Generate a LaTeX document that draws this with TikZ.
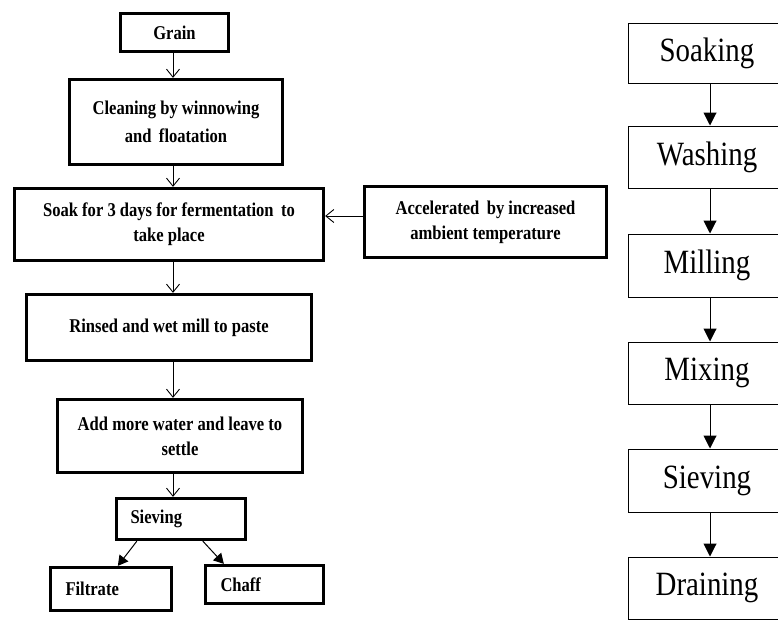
\documentclass[tikz,border=0pt]{standalone}
\usepackage{fontspec}
\setmainfont[FakeStretch=0.85]{Liberation Serif}
\usetikzlibrary{arrows.meta}
\tikzset{
  lbox/.style={draw, line width=3.3pt, align=center, inner sep=2pt,
    font=\fontsize{19.5}{25}\selectfont\bfseries},
  rbox/.style={draw, line width=1pt, minimum width=158pt, align=center, inner sep=0pt,
    font=\fontsize{34}{40}\selectfont},
  oarr/.style={draw, line width=0.9pt, -{Straight Barb[length=8pt,width=13pt,line width=0.9pt]}},
  farr/.style={draw, line width=1pt, -{Triangle[length=13pt,width=13pt]}},
  sarr/.style={draw, line width=1pt, -{Triangle[length=10pt,width=11pt]}}
}
\begin{document}
\begin{tikzpicture}[x=1pt,y=-1pt]
\useasboundingbox (0,0) rectangle (778,619);
\clip (0,0) rectangle (778,619);
\fill[white] (0,0) rectangle (778,619);
\coordinate (spine) at (173,0);
\coordinate (rspine) at (710,0);
% left flowchart
\node[lbox, minimum width=108pt, minimum height=38pt] (grain) at (174.5,32.5) {Grain};
\node[lbox, minimum width=213pt, minimum height=85pt, font=\fontsize{19.5}{28}\selectfont\bfseries] (clean) at (176,122) {Cleaning by winnowing\\and\, floatation};
\node[lbox, minimum width=309pt, minimum height=72pt] (soak) at (169,224.5) {Soak for 3 days for fermentation\, to\\take place};
\node[lbox, minimum width=242pt, minimum height=71pt] (accel) at (485.5,222) {Accelerated\, by increased\\ambient temperature};
\node[lbox, minimum width=285pt, minimum height=66pt] (rinsed) at (169,327.5) {Rinsed and wet mill to paste};
\node[lbox, minimum width=245pt, minimum height=73pt] (water) at (180,436) {Add more water and leave to\\settle};
\node[lbox, minimum height=41pt, inner xsep=14pt, text width=101pt, align=left] (sieve) at (181,519) {Sieving};
\node[lbox, minimum height=43pt, inner xsep=15pt, text width=91pt, align=left] (filtrate) at (111,589) {Filtrate};
\node[lbox, minimum height=38pt, inner xsep=15pt, text width=88pt, align=left] (chaff) at (264.5,584.5) {Chaff};
\draw[oarr] (grain.south -| spine) -- (clean.north -| spine);
\draw[oarr] (clean.south -| spine) -- (soak.north -| spine);
\draw[oarr] (soak.south -| spine) -- (rinsed.north -| spine);
\draw[oarr] (rinsed.south -| spine) -- (water.north -| spine);
\draw[oarr] (water.south -| spine) -- (sieve.north -| spine);
\draw[oarr] ([yshift=6pt]accel.west) -- ([yshift=6pt]accel.west -| soak.east);
\draw[sarr] ([xshift=22pt]sieve.south west) -- ([xshift=69pt]filtrate.north west);
\draw[sarr] ([xshift=88pt]sieve.south west) -- ([xshift=20pt]chaff.north west);
% right flowchart
\node[rbox, minimum height=60pt] (soaking) at (707,53) {Soaking};
\node[rbox, minimum height=62pt] (washing) at (707,157) {Washing};
\node[rbox, minimum height=63pt] (milling) at (707,265.5) {Milling};
\node[rbox, minimum height=62pt] (mixing) at (707,373) {Mixing};
\node[rbox, minimum height=63pt] (rsieving) at (707,480.5) {Sieving};
\node[rbox, minimum height=62pt] (draining) at (707,588) {Draining};
\draw[farr] (soaking.south -| rspine) -- (washing.north -| rspine);
\draw[farr] (washing.south -| rspine) -- (milling.north -| rspine);
\draw[farr] (milling.south -| rspine) -- (mixing.north -| rspine);
\draw[farr] (mixing.south -| rspine) -- (rsieving.north -| rspine);
\draw[farr] (rsieving.south -| rspine) -- (draining.north -| rspine);
\end{tikzpicture}
\end{document}
